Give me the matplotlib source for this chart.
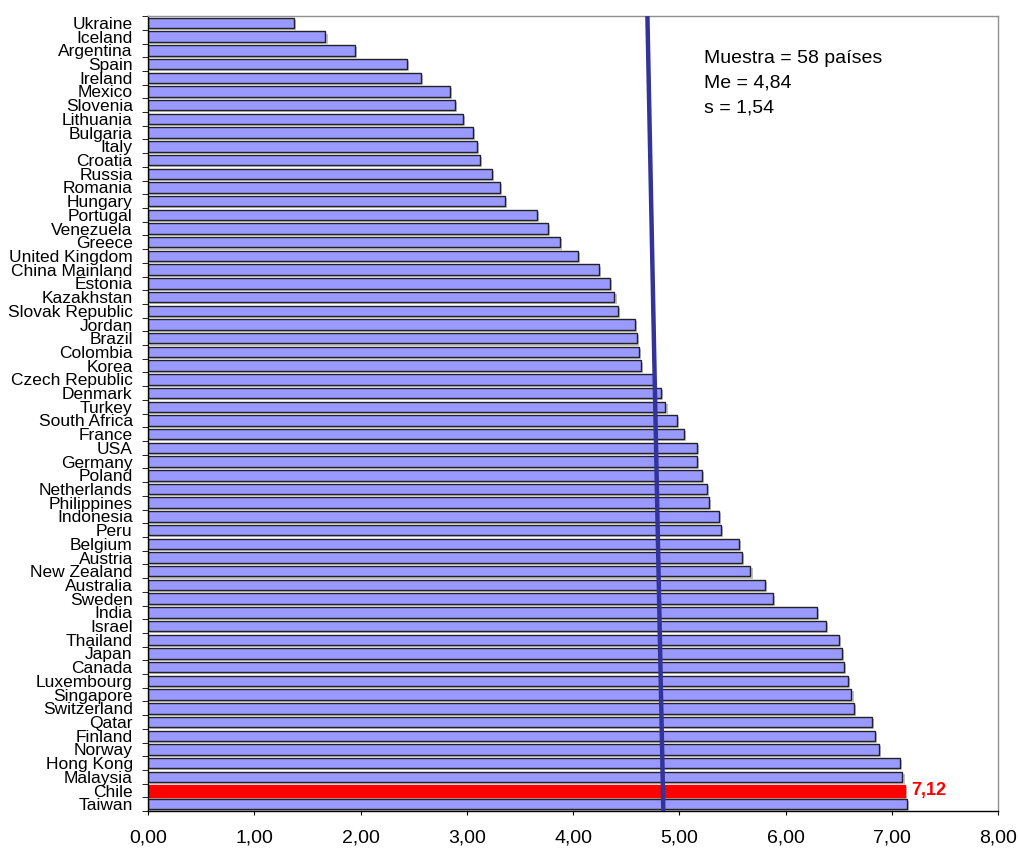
import numpy as np
import matplotlib
matplotlib.use('Agg')
import matplotlib.pyplot as plt
import matplotlib.patheffects as pe
from matplotlib.ticker import FixedLocator, FuncFormatter

# Countries, top to bottom as shown
countries = ['Ukraine', 'Iceland', 'Argentina', 'Spain', 'Ireland', 'Mexico', 'Slovenia',
             'Lithuania', 'Bulgaria', 'Italy', 'Croatia', 'Russia', 'Romania', 'Hungary',
             'Portugal', 'Venezuela', 'Greece', 'United Kingdom', 'China Mainland', 'Estonia',
             'Kazakhstan', 'Slovak Republic', 'Jordan', 'Brazil', 'Colombia', 'Korea',
             'Czech Republic', 'Denmark', 'Turkey', 'South Africa', 'France', 'USA', 'Germany',
             'Poland', 'Netherlands', 'Philippines', 'Indonesia', 'Peru', 'Belgium', 'Austria',
             'New Zealand', 'Australia', 'Sweden', 'India', 'Israel', 'Thailand', 'Japan',
             'Canada', 'Luxembourg', 'Singapore', 'Switzerland', 'Qatar', 'Finland', 'Norway',
             'Hong Kong', 'Malaysia', 'Chile', 'Taiwan']
scores = [1.37, 1.67, 1.95, 2.44, 2.57, 2.84, 2.89, 2.96, 3.06, 3.10, 3.12, 3.24, 3.31, 3.36,
          3.66, 3.76, 3.88, 4.05, 4.24, 4.35, 4.39, 4.42, 4.58, 4.60, 4.62, 4.64,
          4.76, 4.83, 4.87, 4.98, 5.04, 5.17, 5.17, 5.21, 5.26, 5.28, 5.37, 5.39, 5.56, 5.59,
          5.67, 5.81, 5.88, 6.30, 6.38, 6.50, 6.53, 6.55, 6.59, 6.62, 6.64, 6.81, 6.84, 6.88,
          7.08, 7.10, 7.12, 7.14]
highlight = 'Chile'
n_paises = 58
media = 4.84
desv = 1.54
# mean line drawn slightly slanted in the original
line_top = 4.70
line_bottom = 4.85

plt.rcParams['font.family'] = ['Liberation Sans', 'DejaVu Sans']

fig = plt.figure(figsize=(10.18, 8.48), dpi=100)
ax = fig.add_axes([0.1454, 0.0435, 0.835, 0.9375])

y = np.arange(len(countries))
colors = ['#ff0000' if c == highlight else '#9999ff' for c in countries]
edges = ['#ff0000' if c == highlight else '#222222' for c in countries]
heights = [0.88 if c == highlight else 0.76 for c in countries]
bars = ax.barh(y, scores, height=heights, color=colors, edgecolor=edges, linewidth=1.0, zorder=2)
for b in bars:
    b.set_path_effects([pe.SimplePatchShadow(offset=(1.5, -1.5), shadow_rgbFace='#999999', alpha=0.6),
                        pe.Normal()])

# value label for highlighted country
i = countries.index(highlight)
ax.text(scores[i] + 0.06, y[i], f'{scores[i]:.2f}'.replace('.', ','), color='#ff0000',
        fontsize=13, fontweight='bold', va='center', ha='left')

ax.set_xlim(0, 8)
ax.set_ylim(len(countries) - 0.5, -0.5)

# mean line
ax.plot([line_top, line_bottom], [-0.5, len(countries) - 0.5], color='#333399', linewidth=3.2,
        zorder=3, solid_capstyle='butt')

# stats text
ax.text(0.654, 0.958, f'Muestra = {n_paises} países\nMe = {media:.2f}\ns = {desv:.2f}'.replace('.', ','),
        transform=ax.transAxes, fontsize=14, va='top', ha='left', linespacing=1.6)

# axes styling
ax.set_xticks(np.arange(0, 9, 1))
ax.xaxis.set_major_formatter(FuncFormatter(lambda v, p: f'{v:.2f}'.replace('.', ',')))
ax.tick_params(axis='x', direction='out', length=3, pad=10, labelsize=14)

ax.set_yticks(y)
ax.set_yticklabels(countries, fontsize=12.5)
ax.tick_params(axis='y', length=0, pad=11)
ax.yaxis.set_minor_locator(FixedLocator(np.arange(-0.5, len(countries), 1)))
ax.tick_params(axis='y', which='minor', direction='out', length=4, color='black')

ax.spines['top'].set_color('#909090')
ax.spines['right'].set_color('#909090')
ax.spines['left'].set_color('black')
ax.spines['bottom'].set_color('black')
for s in ax.spines.values():
    s.set_linewidth(1.0)

fig.savefig('out.png', dpi=100)
